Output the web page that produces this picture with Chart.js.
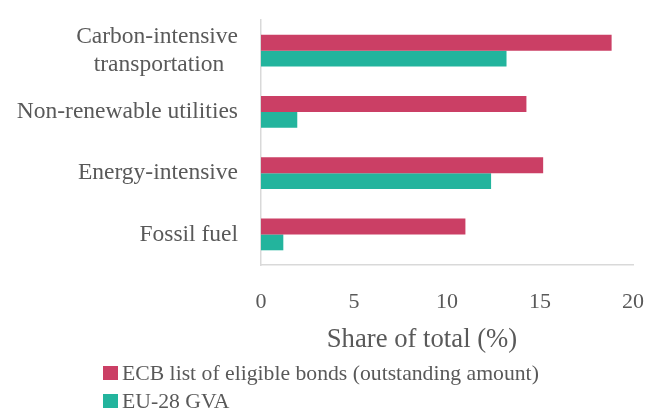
<!DOCTYPE html>
<html>
<head>
<meta charset="utf-8">
<script src="https://cdn.jsdelivr.net/npm/chart.js@4"></script>
<style>
  html, body { margin: 0; padding: 0; background: #fff; }
  #wrap { width: 650px; height: 410px; }
</style>
</head>
<body>
<div id="wrap"><canvas id="chart" width="650" height="410"></canvas></div>
<script>
// second line padded so it sits centred under the first, as in the original
const CATEGORIES = [['Carbon-intensive', 'transportation  \u200A'], 'Non-renewable utilities', 'Energy-intensive', 'Fossil fuel'];
const ECB_BONDS = [18.85, 14.27, 15.17, 10.99];
const EU_GVA = [13.2, 1.95, 12.37, 1.2];
const SERIES_LABELS = ['ECB list of eligible bonds (outstanding amount)', 'EU-28 GVA'];
const X_TICKS = [0, 5, 10, 15, 20];
const X_TITLE = 'Share of total (%)';

const COLORS = ['#cb3f65', '#23b49d'];
const TEXT = '#595959';
const FONT = '"Liberation Serif", "DejaVu Serif", serif';

// legend stacked in one column + axis title offset, as in the original
const extras = {
    id: 'extras',
    afterDraw(chart) {
        const ctx = chart.ctx;
        ctx.save();
        ctx.fillStyle = TEXT;
        ctx.font = '26.7px ' + FONT;
        ctx.textAlign = 'center';
        ctx.textBaseline = 'alphabetic';
        ctx.fillText(X_TITLE, 422, 347);

        ctx.font = '21.7px ' + FONT;
        ctx.textAlign = 'left';
        chart.data.datasets.forEach((ds, i) => {
            const base = 380 + i * 28;
            ctx.fillStyle = ds.backgroundColor;
            ctx.fillRect(103, base - 14, 15, 14);
            ctx.fillStyle = TEXT;
            ctx.fillText(ds.label, 122, base);
        });
        ctx.restore();
    }
};

const noPad = s => { s.paddingTop = 0; s.paddingBottom = 0; s.paddingLeft = 0; s.paddingRight = 0; };

new Chart(document.getElementById('chart'), {
    type: 'bar',
    data: {
        labels: CATEGORIES,
        datasets: [
            { label: SERIES_LABELS[0], data: ECB_BONDS, backgroundColor: COLORS[0] },
            { label: SERIES_LABELS[1], data: EU_GVA, backgroundColor: COLORS[1] },
        ]
    },
    options: {
        indexAxis: 'y',
        responsive: false,
        animation: false,
        categoryPercentage: 0.52,
        barPercentage: 1,
        layout: { padding: { top: 20, right: 17, bottom: 0, left: 0 } },
        plugins: {
            legend: { display: false },
            tooltip: { enabled: false }
        },
        scales: {
            x: {
                min: 0,
                max: 20,
                afterBuildTicks: s => { s.ticks = X_TICKS.map(v => ({ value: v })); },
                afterFit: s => { s.height = 145; noPad(s); },
                grid: { display: false, drawTicks: false },
                border: { color: '#d9d9d9', width: 1.5 },
                ticks: { color: TEXT, padding: 24, maxRotation: 0, font: { family: FONT, size: 22 } }
            },
            y: {
                afterFit: s => { s.width = 261; noPad(s); },
                grid: { display: false, drawTicks: false },
                border: { color: '#d9d9d9', width: 1.5 },
                ticks: { color: TEXT, padding: 23, autoSkip: false, font: { family: FONT, size: 23.5, lineHeight: 1.2 } }
            }
        }
    },
    plugins: [extras]
});
</script>
</body>
</html>
